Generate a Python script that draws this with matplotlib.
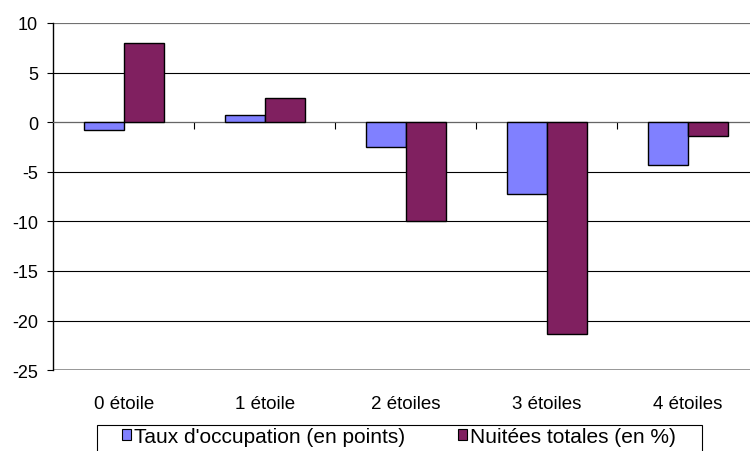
import matplotlib
matplotlib.use("Agg")
import matplotlib.pyplot as plt
from matplotlib.patches import Rectangle
import numpy as np

categories = ["0 étoile", "1 étoile", "2 étoiles", "3 étoiles", "4 étoiles"]
taux_occupation = [-0.8, 0.7, -2.5, -7.2, -4.3]
nuitees_totales = [8.0, 2.4, -10.0, -21.4, -1.35]
y_ticks = [10, 5, 0, -5, -10, -15, -20, -25]

BLUE = "#8080FF"
MAROON = "#802060"

plt.rcParams['font.family'] = ['Liberation Sans', 'DejaVu Sans']

fig = plt.figure(figsize=(7.5, 4.52), dpi=100)
ax = fig.add_axes([0.0711, 0.179, 0.94, 0.768])

x = np.arange(len(categories))
w = 0.285
ax.bar(x - w / 2, taux_occupation, w, color=BLUE, edgecolor="black", linewidth=1.0,
       label="Taux d'occupation (en points)", zorder=3)
ax.bar(x + w / 2, nuitees_totales, w, color=MAROON, edgecolor="black", linewidth=1.0,
       label="Nuitées totales (en %)", zorder=3)

ax.set_xlim(-0.5, len(categories) - 0.5)
ax.set_ylim(-25, 10)
ax.set_yticks(y_ticks)
ax.set_yticklabels([str(v) for v in y_ticks], fontsize=13)
ax.tick_params(axis='y', length=4, width=0.8, pad=7, direction='out')
ax.yaxis.grid(True, color="black", linewidth=0.8)
ax.set_axisbelow(True)

ax.spines['top'].set_visible(False)
ax.spines['right'].set_visible(False)
ax.spines['left'].set_linewidth(1.0)
ax.spines['bottom'].set_position(('data', 0))
ax.spines['bottom'].set_color("#666666")
ax.set_xticks(np.arange(len(categories) - 1) + 0.5)
ax.set_xticklabels([])
ax.tick_params(axis='x', length=5, width=0.8, direction='out')

for i, cat in enumerate(categories):
    ax.text(i, -0.1095, cat, transform=ax.get_xaxis_transform(), ha='center', va='baseline',
            fontsize=13.5)

# top and bottom gridlines are lighter in the original
ax.axhline(-25, color="#888888", linewidth=1.2, zorder=1)
ax.axhline(10, color="#888888", linewidth=1.2, zorder=1)

# legend box, cut by the bottom of the image like the original
fig.patches.append(Rectangle((97.3 / 750, -0.05), (701.7 - 97.3) / 750, 0.05 + 1 - 425.7 / 452,
                             transform=fig.transFigure, facecolor="white", edgecolor="black",
                             linewidth=0.8))
leg = fig.legend(loc='upper left', bbox_to_anchor=(122 / 750, 1 - 428 / 452), ncol=2,
                 fontsize=15, frameon=False, handlelength=0.45, handleheight=0.45,
                 handletextpad=0.15, columnspacing=2.5, borderpad=0, borderaxespad=0)
for h in leg.legend_handles:
    h.set_linewidth(0.8)

fig.savefig("out.png", dpi=100)
